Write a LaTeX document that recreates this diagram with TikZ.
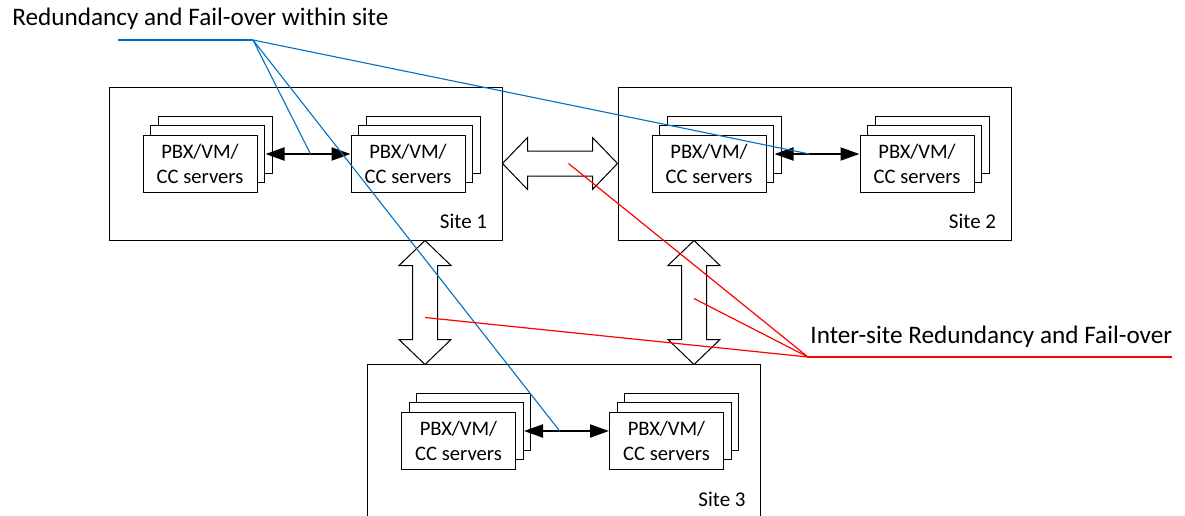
\documentclass[tikz,border=0pt]{standalone}
\usepackage{fontspec}
\setmainfont{Carlito}
\usetikzlibrary{positioning,shadows,arrows.meta}
\definecolor{noteblue}{RGB}{0,112,192}

\begin{document}
\begin{tikzpicture}[x=0.5pt, y=-0.5pt,
  site/.style={draw, line width=0.5pt, minimum width=196.5pt, minimum height=76.5pt, inner sep=0},
  server/.style={draw, fill=white, line width=0.5pt, minimum width=57pt, minimum height=28.5pt, inner sep=0, align=center, font=\fontsize{10.3}{12.5}\selectfont,
    copy shadow={shadow xshift=7.5pt, shadow yshift=9.5pt, draw=black, fill=white, line width=0.5pt},
    copy shadow={shadow xshift=3.75pt, shadow yshift=4.75pt, draw=black, fill=white, line width=0.5pt}},
  sitename/.style={anchor=base east, inner sep=0, font=\fontsize{10.5}{12}\selectfont},
  note/.style={anchor=base west, inner sep=0, font=\fontsize{12.6}{15}\selectfont},
  link/.style={line width=1pt, {Triangle[length=9.5pt,width=6.5pt]}-{Triangle[length=9.5pt,width=6.5pt]}},
  blockarrow/.style={draw, fill=white, line width=0.5pt},
  within/.style={draw=noteblue, line width=0.55pt},
  inter/.style={draw=red, line width=0.6pt}]

\clip (0,0) rectangle (1185,515);

% sites
\node[site] (site1) at (305.5,163.5) {};
\node[site, right=57.5pt of site1] (site2) {};
\node[site] (site3) at (564,440.5) {};

% server stacks
\node[server, right=17pt of site1.west] (srv1a) {PBX/VM/\\CC servers};
\node[server, right=46.5pt of srv1a] (srv1b) {PBX/VM/\\CC servers};
\node[server, right=17pt of site2.west] (srv2a) {PBX/VM/\\CC servers};
\node[server, right=46.5pt of srv2a] (srv2b) {PBX/VM/\\CC servers};
\node[server, right=17pt of site3.west] (srv3a) {PBX/VM/\\CC servers};
\node[server, right=46.5pt of srv3a] (srv3b) {PBX/VM/\\CC servers};

\draw[link] ([shift={(4pt,4.75pt)}]srv1a.east) -- coordinate[pos=.53] (w1) ([yshift=4.75pt]srv1b.west);
\draw[link] ([shift={(4pt,4.75pt)}]srv2a.east) -- coordinate[pos=.41] (w2) ([yshift=4.75pt]srv2b.west);
\draw[link] ([shift={(4pt,4.75pt)}]srv3a.east) -- coordinate[pos=.42] (w3) ([yshift=4.75pt]srv3b.west);

\node[sitename] at ([shift={(-7.5pt,6pt)}]site1.south east) {Site 1};
\node[sitename] at ([shift={(-7.5pt,6pt)}]site2.south east) {Site 2};
\node[sitename] at ([shift={(-7.5pt,5.5pt)}]site3.south east) {Site 3};

% links between sites
\draw[blockarrow] (site1.east) -- ++(25,-26) -- ++(0,13.5) -- ++(65,0) -- ++(0,-13.5) -- ++(25,26)
  -- ++(-25,26) -- ++(0,-13.5) -- ++(-65,0) -- ++(0,13.5) -- cycle;
\draw[blockarrow] ([xshift=59.75pt]site1.south) -- ++(-26,25) -- ++(13.5,0) -- ++(0,74) -- ++(-13.5,0) -- ++(26,25)
  -- ++(26,-25) -- ++(-13.5,0) -- ++(0,-74) -- ++(13.5,0) -- cycle;
\draw[blockarrow] ([xshift=-60.25pt]site2.south) -- ++(-26,25) -- ++(13.5,0) -- ++(0,74) -- ++(-13.5,0) -- ++(26,25)
  -- ++(26,-25) -- ++(-13.5,0) -- ++(0,-74) -- ++(13.5,0) -- cycle;

\coordinate (r1) at ([xshift=33pt]site1.east);
\coordinate (r2) at ([shift={(59.75pt,-38.5pt)}]site1.south);
\coordinate (r3) at ([shift={(-60.25pt,-29pt)}]site2.south);

% callouts
\node[note] (within) at (12,25) {Redundancy and Fail-over within site};
\coordinate (bstart) at (118,40);
\coordinate (bhub) at (253,40);
\draw[within] (bstart) -- (bhub);
\draw[within] (bhub) -- (w1);
\draw[within] (bhub) -- (w2);
\draw[within] (bhub) -- (w3);

\node[note] (intersite) at (810,343) {Inter-site Redundancy and Fail-over};
\coordinate (rhub) at (808,357);
\coordinate (rend) at (1172,357);
\draw[inter] (rhub) -- (rend);
\draw[inter] (rhub) -- (r1);
\draw[inter] (rhub) -- (r2);
\draw[inter] (rhub) -- (r3);
\end{tikzpicture}
\end{document}
